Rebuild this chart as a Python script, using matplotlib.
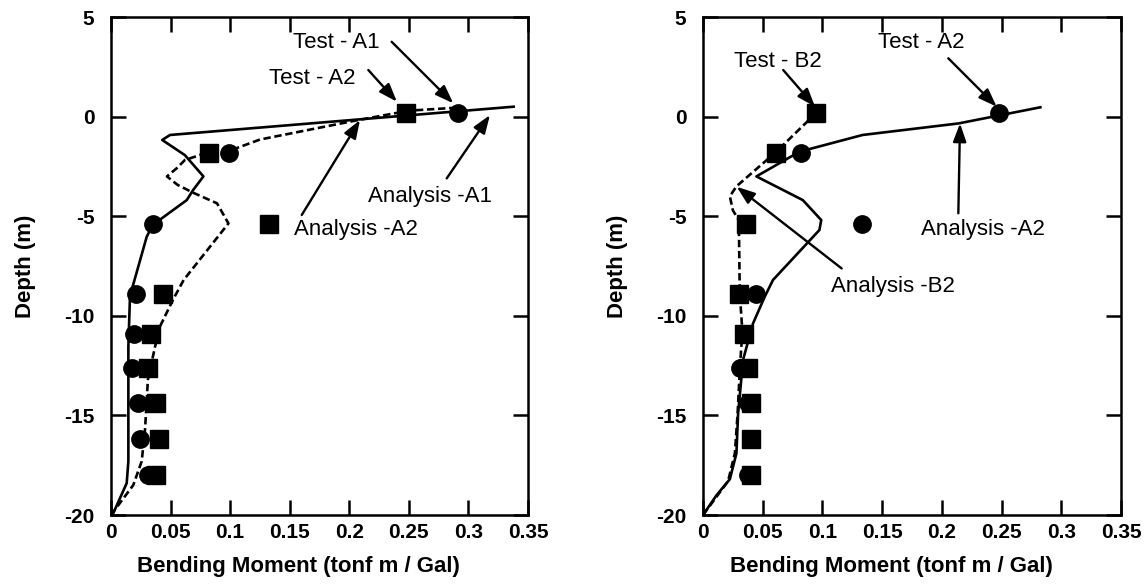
import matplotlib
matplotlib.use('Agg')
import matplotlib.pyplot as plt
from matplotlib import ticker

plt.rcParams['font.family'] = ['Liberation Sans', 'DejaVu Sans']
plt.rcParams['axes.unicode_minus'] = False

# depths of the measured points (m)
test_depth = [0.2, -1.8, -5.4, -8.9, -10.9, -12.6, -14.4, -16.2, -18.0]

# left panel: cases A1 / A2
test_a1 = [0.291, 0.099, 0.035, 0.021, 0.019, 0.018, 0.023, 0.024, 0.031]
test_a2 = [0.248, 0.082, 0.133, 0.044, 0.034, 0.031, 0.038, 0.040, 0.038]

ana_a1_x = [0.338, 0.0496, 0.043, 0.062, 0.0776, 0.069, 0.0636, 0.035, 0.030,
            0.0174, 0.016, 0.0146, 0.0146, 0.0132, 0.002, 0.0]
ana_a1_y = [0.5, -0.92, -1.17, -1.93, -3.0, -3.68, -4.19, -5.44, -6.03,
            -8.7, -8.95, -11.55, -17.3, -18.4, -19.9, -20.0]

ana_a2_x = [0.29, 0.25, 0.205, 0.125, 0.10, 0.077, 0.062, 0.055, 0.047, 0.056,
            0.069, 0.089, 0.0986, 0.061, 0.052, 0.041, 0.037, 0.031, 0.0286,
            0.0258, 0.0187, 0.0]
ana_a2_y = [0.45, 0.3, -0.2, -1.15, -1.7, -1.88, -2.18, -2.6, -3.0, -3.43,
            -3.82, -4.35, -5.36, -8.2, -9.2, -10.55, -11.55, -13.2, -15.7,
            -17.3, -18.5, -20.0]

# right panel: cases A2 / B2
test_b2 = [0.095, 0.061, 0.036, 0.030, 0.034, 0.038, 0.040, 0.040, 0.040]

ana_a2r_x = [0.2825, 0.214, 0.1336, 0.0808, 0.0447, 0.0836, 0.099, 0.0975,
             0.0586, 0.0517, 0.0419, 0.0336, 0.0294, 0.028, 0.0225, 0.0114, 0.0]
ana_a2r_y = [0.47, -0.34, -0.92, -1.76, -3.0, -4.19, -5.19, -5.69,
             -8.2, -9.04, -10.38, -12.2, -14.9, -16.9, -18.2, -19.0, -20.0]

ana_b2_x = [0.095, 0.0614, 0.028, 0.0225, 0.025, 0.030, 0.0308, 0.033, 0.031,
            0.029, 0.0267, 0.021, 0.0]
ana_b2_y = [0.2, -1.76, -3.5, -4.0, -4.7, -5.2, -8.87, -10.8, -12.5,
            -14.9, -16.9, -18.3, -20.0]

x_ticks = [0, 0.05, 0.1, 0.15, 0.2, 0.25, 0.3, 0.35]
y_ticks = [5, 0, -5, -10, -15, -20]

DASH = (0, (2.8, 1.4))
LW = 1.9
TXT = 16
ARROW = dict(arrowstyle='-|>,head_length=1.1,head_width=0.4',
             color='black', lw=1.7, shrinkA=0, shrinkB=0)


def style_axes(ax):
    ax.set_xlim(0, 0.35)
    ax.set_ylim(-20, 5)
    ax.set_xticks(x_ticks)
    ax.set_yticks(y_ticks)
    ax.xaxis.set_major_formatter(ticker.FuncFormatter(lambda v, p: f"{v:g}"))
    ax.tick_params(direction='in', length=11, width=1.8, top=True, right=True,
                   labelsize=15)
    ax.tick_params(axis='x', pad=6)
    ax.tick_params(axis='y', pad=12)
    for lab in ax.get_xticklabels() + ax.get_yticklabels():
        lab.set_fontweight('bold')
    for sp in ax.spines.values():
        sp.set_linewidth(1.8)
    ax.set_xlabel("Bending Moment (tonf m / Gal)", fontsize=16, fontweight='bold')
    ax.set_ylabel("Depth (m)", fontsize=16, fontweight='bold')
    ax.xaxis.set_label_coords(0.45, -0.082)
    ax.yaxis.set_label_coords(-0.18, 0.5)


def label(ax, text, txy, tail, tip):
    ax.text(txy[0], txy[1], text, fontsize=TXT, ha='center', va='center')
    ax.annotate('', xy=tip, xytext=tail, arrowprops=ARROW)


fig = plt.figure(figsize=(11.44, 5.88), dpi=100)
ax1 = fig.add_axes([0.0970, 0.1241, 0.3645, 0.8469])
ax2 = fig.add_axes([0.6145, 0.1241, 0.3654, 0.8469])

# ---- left panel ----
ax1.plot(ana_a1_x, ana_a1_y, color='black', lw=LW)
ax1.plot(ana_a2_x, ana_a2_y, color='black', lw=LW, linestyle=DASH)
ax1.plot(test_a1, test_depth, 'o', color='black', markersize=12.5)
ax1.plot(test_a2, test_depth, 's', color='black', markersize=13)
style_axes(ax1)

label(ax1, "Test - A1", (0.1894, 3.70), (0.2356, 3.76), (0.2873, 0.67))
label(ax1, "Test - A2", (0.1691, 1.94), (0.2160, 2.34), (0.2400, 0.75))
label(ax1, "Analysis -A2", (0.2052, -5.69), (0.1601, -4.94), (0.2090, -0.17))
label(ax1, "Analysis -A1", (0.2682, -4.02), (0.2818, -3.10), (0.3181, 0.08))

# ---- right panel ----
ax2.plot(ana_a2r_x, ana_a2r_y, color='black', lw=LW)
ax2.plot(ana_b2_x, ana_b2_y, color='black', lw=LW, linestyle=DASH)
ax2.plot(test_a2, test_depth, 'o', color='black', markersize=12.5)
ax2.plot(test_b2, test_depth, 's', color='black', markersize=13)
style_axes(ax2)

label(ax2, "Test - B2", (0.0631, 2.76), (0.0672, 2.34), (0.0938, 0.50))
label(ax2, "Test - A2", (0.1830, 3.70), (0.2054, 2.93), (0.2459, 0.50))
label(ax2, "Analysis -A2", (0.2347, -5.69), (0.2138, -4.85), (0.2152, -0.34))
label(ax2, "Analysis -B2", (0.1593, -8.54), (0.1161, -7.62), (0.0282, -3.52))

fig.savefig('out.png', dpi=100, facecolor='white')
